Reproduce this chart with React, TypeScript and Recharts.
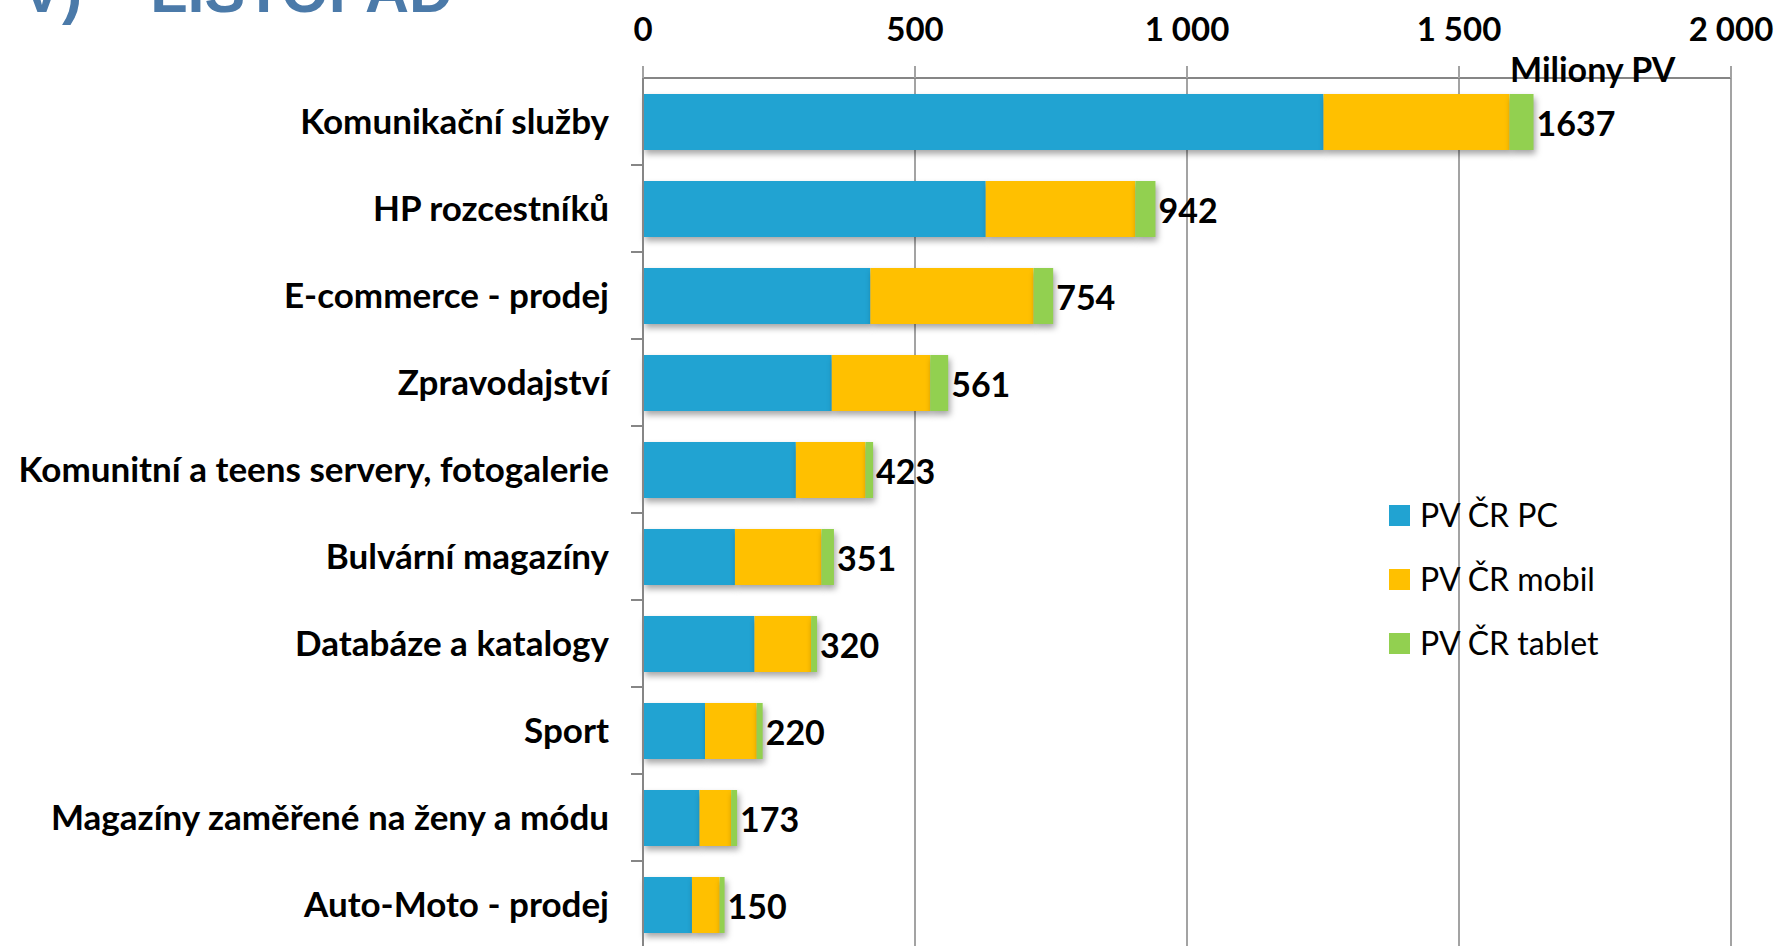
import React from "react";
import {
	Bar,
	BarChart,
	CartesianGrid,
	LabelList,
	Legend,
	XAxis,
	YAxis,
} from "recharts";

const categories = [
	"Komunikační služby",
	"HP rozcestníků",
	"E-commerce - prodej",
	"Zpravodajství",
	"Komunitní a teens servery, fotogalerie",
	"Bulvární magazíny",
	"Databáze a katalogy",
	"Sport",
	"Magazíny zaměřené na ženy a módu",
	"Auto-Moto - prodej",
];
const pvPc = [1251, 630, 418, 347, 281, 169, 205, 114, 104, 90];
const pvMobil = [342, 275, 300, 181, 128, 159, 104, 95, 58, 51];
const pvTablet = [44, 37, 36, 33, 14, 23, 11, 11, 11, 9];
const totals = [1637, 942, 754, 561, 423, 351, 320, 220, 173, 150];
const xTicks = [0, 500, 1000, 1500, 2000];

const data = categories.map((name, i) => ({
	name,
	pc: pvPc[i],
	mobil: pvMobil[i],
	tablet: pvTablet[i],
	total: totals[i],
}));

const FONT = "Lato, 'Open Sans', sans-serif";
const AXIS = "#868686";
const GRID = "#a3a3a3";

const fmt = (v: number) => String(v).replace(/\B(?=(\d{3})+(?!\d))/g, " ");

function CategoryTick(props: any) {
	const { x, y, payload } = props;
	const half = payload.offset ?? 43.5;
	return (
		<g>
			<text
				x={x}
				y={y}
				dy="0.36em"
				textAnchor="end"
				fontFamily={FONT}
				fontWeight={700}
				fontSize={35}
				fill="#000"
			>
				{payload.value}
			</text>
			<line x1={x + 22} x2={x + 34} y1={y + half} y2={y + half} stroke={AXIS} strokeWidth={2} />
		</g>
	);
}

function TotalLabel(props: any) {
	const { x, y, width, height, value } = props;
	return (
		<text
			x={x + width + 3}
			y={y + height / 2}
			dy="0.4em"
			fontFamily={FONT}
			fontWeight={700}
			fontSize={34}
			fill="#000"
		>
			{value}
		</text>
	);
}

function LegendBox({ payload }: any) {
	return (
		<div>
			{(payload || []).map((p: any) => (
				<div
					key={p.value}
					style={{ display: "flex", alignItems: "center", height: 64 }}
				>
					<span style={{ width: 21, height: 21, background: p.color, marginRight: 10 }} />
					<span style={{ fontFamily: FONT, fontSize: 32, color: "#000", lineHeight: "32px" }}>
						{p.value}
					</span>
				</div>
			))}
		</div>
	);
}

export default function App() {
	return (
		<div
			style={{
				position: "absolute",
				left: 0,
				top: 0,
				width: 1777,
				height: 946,
				overflow: "hidden",
				background: "#fff",
			}}
		>
			<style>{`.recharts-bar-rectangles{filter:drop-shadow(2px 4px 3px rgba(0,0,0,0.35));}`}</style>
			<div
				style={{
					position: "absolute",
					left: -1400,
					width: 1853,
					top: -39,
					textAlign: "right",
					fontFamily: "'Liberation Sans', Arial, sans-serif",
					fontWeight: 700,
					fontSize: 61,
					lineHeight: "61px",
					color: "#4b7aa9",
					whiteSpace: "nowrap",
				}}
			>
				NÁVŠTĚVNOST (PV) – LISTOPAD
			</div>
			<BarChart
				width={1777}
				height={950}
				data={data}
				layout="vertical"
				margin={{ top: 0, right: 46, bottom: 2, left: 0 }}
			>
				<CartesianGrid horizontal={false} stroke={GRID} strokeWidth={2} />
				<XAxis
					type="number"
					orientation="top"
					domain={[0, 2000]}
					ticks={xTicks}
					height={78}
					tickFormatter={fmt}
					tickSize={12}
					tickMargin={25}
					axisLine={{ stroke: AXIS, strokeWidth: 2 }}
					tickLine={{ stroke: GRID, strokeWidth: 2 }}
					tick={{ fontFamily: FONT, fontWeight: 700, fontSize: 33, fill: "#000" }}
				/>
				<YAxis
					type="category"
					dataKey="name"
					width={643}
					interval={0}
					tickSize={12}
					tickMargin={22}
					tickLine={false}
					axisLine={{ stroke: AXIS, strokeWidth: 2 }}
					tick={<CategoryTick />}
				/>
				<Legend
					layout="vertical"
					align="center"
					verticalAlign="middle"
					content={<LegendBox />}
					wrapperStyle={{ left: 1389, top: 483, width: 300, height: 200 }}
				/>
				<Bar dataKey="pc" name="PV ČR PC" stackId="a" fill="#21a3d2" barSize={56} isAnimationActive={false} />
				<Bar dataKey="mobil" name="PV ČR mobil" stackId="a" fill="#ffc000" barSize={56} isAnimationActive={false} />
				<Bar dataKey="tablet" name="PV ČR tablet" stackId="a" fill="#92d050" barSize={56} isAnimationActive={false}>
					<LabelList dataKey="total" content={<TotalLabel />} />
				</Bar>
			</BarChart>
			<div
				style={{
					position: "absolute",
					left: 1510,
					top: 50,
					fontFamily: FONT,
					fontWeight: 700,
					fontSize: 34,
					lineHeight: "38px",
					color: "#000",
					whiteSpace: "nowrap",
				}}
			>
				Miliony PV
			</div>
		</div>
	);
}
